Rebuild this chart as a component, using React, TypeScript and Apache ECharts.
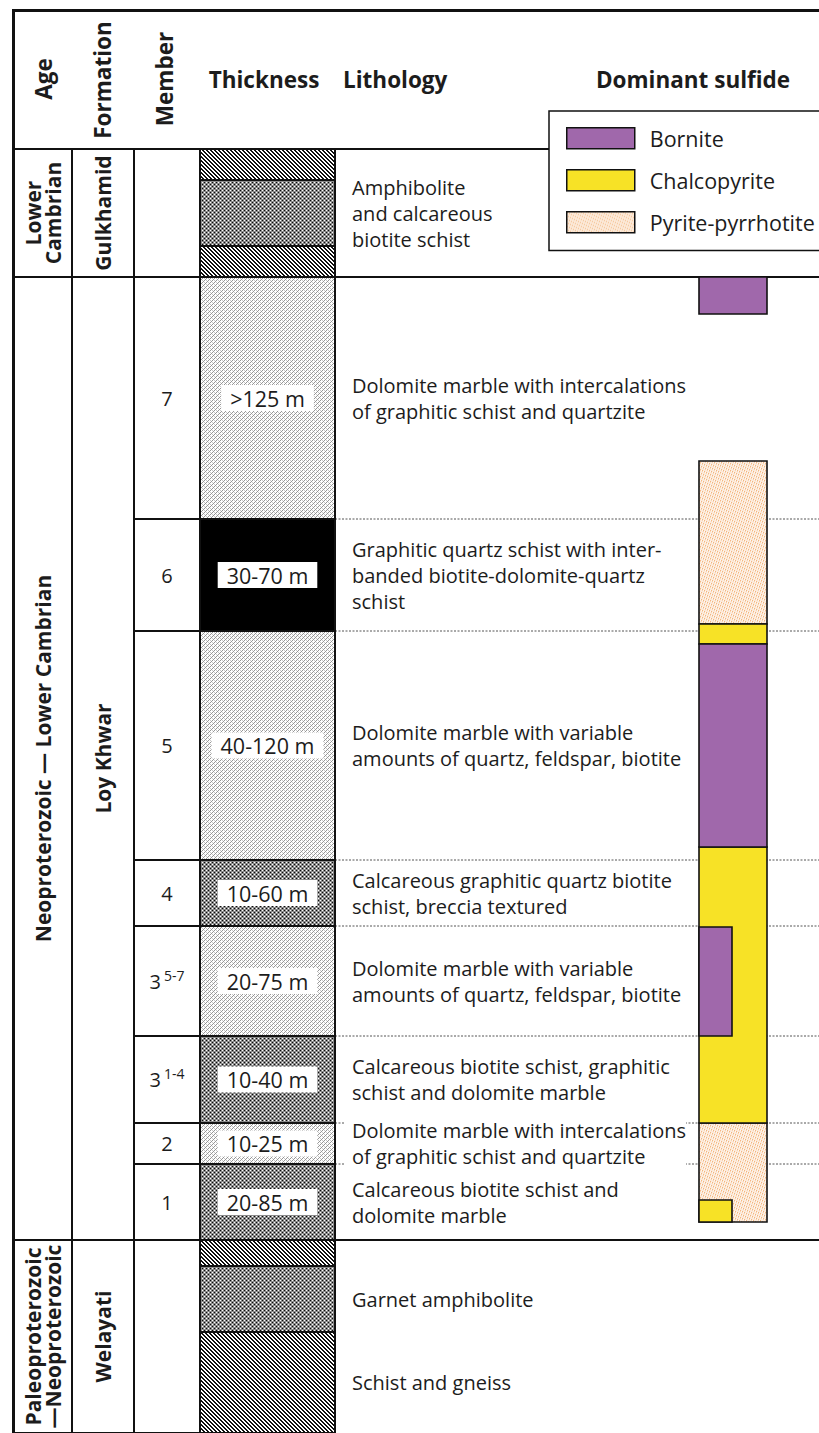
import React, { useEffect, useRef } from 'react';
import * as echarts from 'echarts';

// ---------------- DATA ----------------
const ageNames = ['Lower\nCambrian', 'Neoproterozoic — Lower Cambrian', 'Paleoproterozoic\n—Neoproterozoic'];
const ageTop = [149, 277, 1240];
const ageBottom = [277, 1240, 1433];

const formationNames = ['Gulkhamid', 'Loy Khwar', 'Welayati'];
const formationTop = [149, 277, 1240];
const formationBottom = [277, 1240, 1433];

const memberNumbers = ['', '7', '6', '5', '4', '3', '3', '2', '1', ''];
const memberSubunits = ['', '', '', '', '', '5-7', '1-4', '', '', ''];
const memberTop = [149, 277, 519, 631, 860, 926, 1036, 1123, 1164, 1240];
const memberBottom = [277, 519, 631, 860, 926, 1036, 1123, 1164, 1240, 1433];
const thicknessLabels = ['', '>125 m', '30-70 m', '40-120 m', '10-60 m', '20-75 m', '10-40 m', '10-25 m', '20-85 m', ''];

const bandTop = [149, 180, 246, 277, 519, 631, 860, 926, 1036, 1123, 1164, 1240, 1266, 1332];
const bandBottom = [180, 246, 277, 519, 631, 860, 926, 1036, 1123, 1164, 1240, 1266, 1332, 1433];
const bandRock = ['hatch', 'dots', 'hatch', 'marble', 'black', 'marble', 'dots', 'marble', 'dots', 'marble', 'dots', 'hatch', 'dots', 'hatch'];

const lithologyTexts = [
  'Amphibolite\nand calcareous\nbiotite schist',
  'Dolomite marble with intercalations\nof graphitic schist and quartzite',
  'Graphitic quartz schist with inter-\nbanded biotite-dolomite-quartz\nschist',
  'Dolomite marble with variable\namounts of quartz, feldspar, biotite',
  'Calcareous graphitic quartz biotite\nschist, breccia textured',
  'Dolomite marble with variable\namounts of quartz, feldspar, biotite',
  'Calcareous biotite schist, graphitic\nschist and dolomite marble',
  'Dolomite marble with intercalations\nof graphitic schist and quartzite',
  'Calcareous biotite schist and\ndolomite marble',
  'Garnet amphibolite',
  'Schist and gneiss',
];
const lithologyTop = [149, 277, 519, 631, 860, 926, 1036, 1123, 1164, 1266, 1332];
const lithologyBottom = [277, 519, 631, 860, 926, 1036, 1123, 1164, 1240, 1332, 1433];

const boundaryDepth = [277, 519, 631, 860, 926, 1036, 1123, 1164, 1240];
const boundaryKind = ['solid', 'dotted', 'dotted', 'dotted', 'dotted', 'dotted', 'dotted', 'dotted', 'solid'];

const sulfideNames = ['Bornite', 'Chalcopyrite', 'Pyrite-pyrrhotite'];
const borniteTop = [277, 644, 927];
const borniteBottom = [314, 847, 1036];
const borniteSpan = ['full', 'full', 'half'];
const chalcopyriteTop = [624, 847, 1200];
const chalcopyriteBottom = [644, 1123, 1222];
const chalcopyriteSpan = ['full', 'full', 'half'];
const pyriteTop = [461, 1123];
const pyriteBottom = [624, 1222];
const pyriteSpan = ['full', 'full'];

// ---------------- LAYOUT / STYLE ----------------
const W = 819;
const H = 1433;
const X_LEFT = 13;
const X_AGE = 72;
const X_FORM = 134;
const X_MEMBER = 200;
const X_THICK = 335;
const X_LITHO = 345;
const X_SULF_L = 699;
const X_SULF_HALF = 732;
const X_SULF_R = 767;
const X_RIGHT = 819;
const FONT = "'Open Sans', 'DejaVu Sans', sans-serif";
const INK = '#111111';
const TEXT = '#1c1c1c';
const BORNITE = '#a068ab';
const CHALCO = '#f7e226';

function makeTile(w: number, h: number, fn: (x: number, y: number) => number[]) {
  const c = document.createElement('canvas');
  c.width = w;
  c.height = h;
  const ctx = c.getContext('2d') as CanvasRenderingContext2D;
  const img = ctx.createImageData(w, h);
  for (let y = 0; y < h; y++) {
    for (let x = 0; x < w; x++) {
      const [r, g, b] = fn(x, y);
      const k = (y * w + x) * 4;
      img.data[k] = r;
      img.data[k + 1] = g;
      img.data[k + 2] = b;
      img.data[k + 3] = 255;
    }
  }
  ctx.putImageData(img, 0, 0);
  return { image: c as any, repeat: 'repeat', imageWidth: w, imageHeight: h };
}

function buildPatterns() {
  const hatch = makeTile(4, 4, (x, y) => (((x - y) % 4 + 4) % 4 < 2 ? [15, 15, 15] : [255, 255, 255]));
  const dots = makeTile(4, 4, (x, y) => {
    if (y % 4 === 0 && x % 4 === 0) return [255, 255, 255];
    if (y % 4 === 0 && x % 4 === 2) return [10, 10, 10];
    if (y % 4 === 2 && x % 4 === 0) return [10, 10, 10];
    if (y % 4 === 2 && x % 4 === 2) return [255, 255, 255];
    return [138, 138, 138];
  });
  const marble = makeTile(4, 4, (x, y) => {
    if ((x + y) % 4 === 0) return [150, 150, 150];
    if (((x - y) % 4 + 4) % 4 === 2) return [200, 200, 200];
    return [255, 255, 255];
  });
  const pyrite = makeTile(7, 7, (x, y) => {
    const m = (x * 2 + y * 3) % 7;
    if (m === 0) return [243, 182, 128];
    if (m === 3) return [248, 212, 178];
    if (m === 5) return [255, 250, 244];
    return [252, 234, 218];
  });
  return { hatch, dots, marble, black: '#000000', pyrite };
}

export default function App() {
  const ref = useRef<HTMLDivElement>(null);

  useEffect(() => {
    if (!ref.current) return;
    const chart = echarts.init(ref.current, undefined, { renderer: 'svg' });
    const P: any = buildPatterns();

    const rectOf = (api: any, x0: number, y0: number, x1: number, y1: number) => {
      const a = api.coord([x0, y0]);
      const b = api.coord([x1, y1]);
      return { x: a[0], y: a[1], width: b[0] - a[0], height: b[1] - a[1] };
    };

    const rotatedCell = (name: string, names: string[], tops: number[], bottoms: number[], x0: number, x1: number, lh: number) => ({
      type: 'custom',
      name,
      coordinateSystem: 'cartesian2d',
      silent: true,
      data: tops.map((t, i) => [t, bottoms[i]]),
      encode: { y: [0, 1] },
      renderItem: (params: any, api: any) => {
        const r = rectOf(api, x0, api.value(0), x1, api.value(1));
        return {
          type: 'group',
          children: [
            { type: 'rect', shape: r, style: { fill: 'none', stroke: INK, lineWidth: 2 } },
            {
              type: 'text',
              x: r.x + r.width / 2,
              y: r.y + r.height / 2,
              rotation: Math.PI / 2,
              style: {
                text: names[params.dataIndex],
                fontFamily: FONT,
                fontWeight: 'bold',
                fontSize: 21,
                lineHeight: lh,
                fill: TEXT,
                align: 'center',
                verticalAlign: 'middle',
              },
            },
          ],
        };
      },
    });

    const sulfideSeries = (name: string, tops: number[], bottoms: number[], spans: string[], fill: any) => ({
      type: 'custom',
      name,
      coordinateSystem: 'cartesian2d',
      silent: true,
      itemStyle: { color: fill },
      data: tops.map((t, i) => [t, bottoms[i], spans[i] === 'half' ? 1 : 0]),
      encode: { y: [0, 1] },
      renderItem: (params: any, api: any) => {
        const half = api.value(2) === 1;
        const r = rectOf(api, X_SULF_L, api.value(0), half ? X_SULF_HALF : X_SULF_R, api.value(1));
        return { type: 'rect', shape: r, style: { fill, stroke: INK, lineWidth: 1.6 } };
      },
    });

    const headerText = (text: string, x: number, y: number, align: string, rotated: boolean) => ({
      type: 'text',
      z: 50,
      silent: true,
      x,
      y,
      rotation: rotated ? Math.PI / 2 : 0,
      style: { text, fontFamily: FONT, fontWeight: 'bold', fontSize: 22.5, fill: TEXT, align, verticalAlign: 'middle' },
    });

    const option: any = {
      animation: false,
      backgroundColor: '#ffffff',
      grid: { left: 0, right: 0, top: 0, bottom: 0 },
      xAxis: { type: 'value', min: 0, max: W, show: false },
      yAxis: { type: 'value', min: 0, max: H, inverse: true, show: false },
      legend: {
        orient: 'vertical',
        left: 549,
        top: 111,
        selectedMode: false,
        data: [
          { name: sulfideNames[0], icon: 'rect', itemStyle: { color: BORNITE, borderColor: INK, borderWidth: 1.5 } },
          { name: sulfideNames[1], icon: 'rect', itemStyle: { color: CHALCO, borderColor: INK, borderWidth: 1.5 } },
          { name: sulfideNames[2], icon: 'rect', itemStyle: { color: P.pyrite, borderColor: INK, borderWidth: 1.5 } },
        ],
        itemWidth: 68,
        itemHeight: 21,
        itemGap: 19.5,
        padding: [16, 80, 17, 17],
        backgroundColor: '#ffffff',
        borderColor: INK,
        borderWidth: 1.5,
        textStyle: { fontFamily: FONT, fontSize: 21.5, color: TEXT, lineHeight: 21, padding: [0, 0, 0, 10] },
      },
      graphic: [
        { type: 'line', z: 1, silent: true, shape: { x1: X_LEFT, y1: 149, x2: X_RIGHT, y2: 149 }, style: { stroke: INK, lineWidth: 2 } },
        { type: 'line', z: 50, silent: true, shape: { x1: 12, y1: 10.5, x2: X_RIGHT, y2: 10.5 }, style: { stroke: INK, lineWidth: 3 } },
        { type: 'line', z: 50, silent: true, shape: { x1: 13.5, y1: 9, x2: 13.5, y2: H }, style: { stroke: INK, lineWidth: 3 } },
        headerText('Age', 43, 79, 'center', true),
        headerText('Formation', 102, 80, 'center', true),
        headerText('Member', 164, 79, 'center', true),
        headerText('Thickness', 264, 79, 'center', false),
        headerText('Lithology', 343, 79, 'left', false),
        headerText('Dominant sulfide', 693, 79, 'center', false),
      ],
      series: [
        // boundaries across lithology and sulfide columns
        {
          type: 'custom',
          name: 'boundaries',
          coordinateSystem: 'cartesian2d',
          silent: true,
          data: boundaryDepth.map((d, i) => [d, boundaryKind[i] === 'solid' ? 1 : 0]),
          encode: { y: 0 },
          renderItem: (params: any, api: any) => {
            const solid = api.value(1) === 1;
            const a = api.coord([X_THICK, api.value(0)]);
            const b = api.coord([X_RIGHT, api.value(0)]);
            return {
              type: 'line',
              shape: { x1: a[0], y1: a[1], x2: b[0], y2: b[1] },
              style: solid
                ? { stroke: INK, lineWidth: 2 }
                : { stroke: '#555555', lineWidth: 1, lineDash: [2, 1.5] },
            };
          },
        },
        rotatedCell('age', ageNames, ageTop, ageBottom, X_LEFT, X_AGE, 20),
        rotatedCell('formation', formationNames, formationTop, formationBottom, X_AGE, X_FORM, 21),
        // member column
        {
          type: 'custom',
          name: 'member',
          coordinateSystem: 'cartesian2d',
          silent: true,
          data: memberTop.map((t, i) => [t, memberBottom[i]]),
          encode: { y: [0, 1] },
          renderItem: (params: any, api: any) => {
            const i = params.dataIndex;
            const r = rectOf(api, X_FORM, api.value(0), X_MEMBER, api.value(1));
            const num = memberNumbers[i];
            const sub = memberSubunits[i];
            const txt = num === '' ? '' : sub ? `{n|${num}} {s|${sub}}` : `{n|${num}}`;
            return {
              type: 'group',
              children: [
                { type: 'rect', shape: r, style: { fill: 'none', stroke: INK, lineWidth: 2 } },
                {
                  type: 'text',
                  x: r.x + r.width / 2,
                  y: r.y + r.height / 2,
                  style: {
                    text: txt,
                    align: 'center',
                    verticalAlign: 'middle',
                    fill: TEXT,
                    fontFamily: FONT,
                    rich: {
                      n: { fontSize: 20, lineHeight: 26, fontFamily: FONT, fill: TEXT },
                      s: { fontSize: 14, lineHeight: 16, verticalAlign: 'top', fontFamily: FONT, fill: TEXT },
                    },
                  },
                },
              ],
            };
          },
        },
        // thickness column bands
        {
          type: 'custom',
          name: 'thickness',
          coordinateSystem: 'cartesian2d',
          silent: true,
          data: bandTop.map((t, i) => [t, bandBottom[i]]),
          encode: { y: [0, 1] },
          renderItem: (params: any, api: any) => {
            const r = rectOf(api, X_MEMBER, api.value(0), X_THICK, api.value(1));
            return { type: 'rect', shape: r, style: { fill: P[bandRock[params.dataIndex]], stroke: INK, lineWidth: 2 } };
          },
        },
        // thickness labels
        {
          type: 'custom',
          name: 'thickness labels',
          coordinateSystem: 'cartesian2d',
          silent: true,
          data: memberTop.map((t, i) => [t, memberBottom[i]]),
          encode: { y: [0, 1] },
          renderItem: (params: any, api: any) => {
            const label = thicknessLabels[params.dataIndex];
            if (!label) return null;
            const r = rectOf(api, X_MEMBER, api.value(0), X_THICK, api.value(1));
            return {
              type: 'text',
              x: r.x + r.width / 2,
              y: r.y + r.height / 2,
              style: {
                text: label,
                fontFamily: FONT,
                fontSize: 21.5,
                lineHeight: 23,
                fill: TEXT,
                align: 'center',
                verticalAlign: 'middle',
                backgroundColor: '#ffffff',
                padding: [2, 9, 1, 9],
              },
            };
          },
        },
        // lithology descriptions
        {
          type: 'custom',
          name: 'lithology',
          coordinateSystem: 'cartesian2d',
          silent: true,
          data: lithologyTop.map((t, i) => [t, lithologyBottom[i]]),
          encode: { y: [0, 1] },
          renderItem: (params: any, api: any) => {
            const a = api.coord([X_LITHO, (api.value(0) + api.value(1)) / 2]);
            return {
              type: 'text',
              x: a[0],
              y: a[1],
              style: {
                text: lithologyTexts[params.dataIndex],
                fontFamily: FONT,
                fontSize: 20,
                lineHeight: 26,
                fill: TEXT,
                align: 'left',
                verticalAlign: 'middle',
                backgroundColor: '#ffffff',
                padding: [0, 0, 0, 7],
              },
            };
          },
        },
        sulfideSeries('Pyrite-pyrrhotite', pyriteTop, pyriteBottom, pyriteSpan, P.pyrite),
        sulfideSeries('Chalcopyrite', chalcopyriteTop, chalcopyriteBottom, chalcopyriteSpan, CHALCO),
        sulfideSeries('Bornite', borniteTop, borniteBottom, borniteSpan, BORNITE),
      ],
    };

    chart.setOption(option);
    return () => chart.dispose();
  }, []);

  return (
    <div
      ref={ref}
      style={{ position: 'absolute', left: 0, top: 0, width: W, height: H, background: '#ffffff' }}
    />
  );
}
